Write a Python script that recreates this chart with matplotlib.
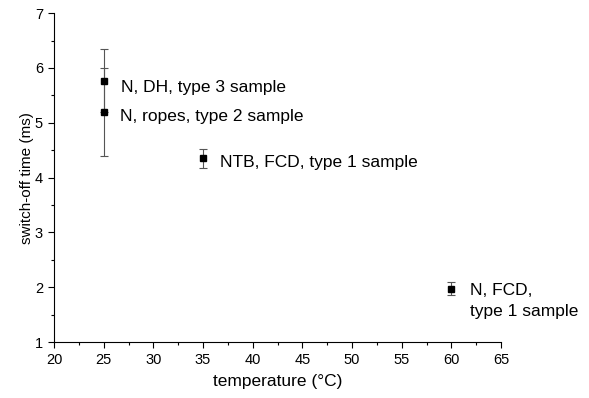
import matplotlib.pyplot as plt
from matplotlib.ticker import MultipleLocator

temperature = [25, 25, 35, 60]
switch_off = [5.77, 5.19, 4.35, 1.97]
switch_off_err = [0.57, 0.80, 0.18, 0.12]
labels = [
    "N, DH, type 3 sample",
    "N, ropes, type 2 sample",
    "NTB, FCD, type 1 sample",
    "N, FCD,\ntype 1 sample",
]
# label offsets in points from the point (dx, dy), vertical alignment
label_offsets = [(12.5, -5, "center"), (11.5, -3, "center"), (12.5, -3, "center"), (13.5, 4, "top")]

plt.rcParams.update(
    {
        "font.family": "sans-serif",
        "font.sans-serif": ["Liberation Sans", "DejaVu Sans"],
        "axes.linewidth": 0.8,
    }
)

fig = plt.figure(figsize=(5.89, 3.98), dpi=100)
ax = fig.add_axes([0.0917, 0.1407, 0.7589, 0.8263])

ax.errorbar(
    temperature,
    switch_off,
    yerr=switch_off_err,
    fmt="s",
    color="black",
    markersize=4.5,
    ecolor="#555555",
    elinewidth=0.8,
    capsize=2.8,
    capthick=0.8,
)

for x, y, text, (dx, dy, va) in zip(temperature, switch_off, labels, label_offsets):
    ax.annotate(
        text,
        xy=(x, y),
        xytext=(dx, dy),
        textcoords="offset points",
        ha="left",
        va=va,
        fontsize=12.5,
        linespacing=1.45,
    )

ax.set_xlim(20, 65)
ax.set_ylim(1, 7)
ax.xaxis.set_major_locator(MultipleLocator(5))
ax.xaxis.set_minor_locator(MultipleLocator(2.5))
ax.yaxis.set_major_locator(MultipleLocator(1))
ax.yaxis.set_minor_locator(MultipleLocator(0.5))
ax.spines["top"].set_visible(False)
ax.spines["right"].set_visible(False)
ax.tick_params(axis="both", which="major", length=4, width=0.8, labelsize=10.5, pad=4)
ax.tick_params(axis="both", which="minor", length=2.2, width=0.8)

ax.set_xlabel("temperature (°C)", fontsize=12.5, labelpad=5)
ax.set_ylabel("switch-off time (ms)", fontsize=11, labelpad=0.5)

fig.savefig("out.png", dpi=100)
